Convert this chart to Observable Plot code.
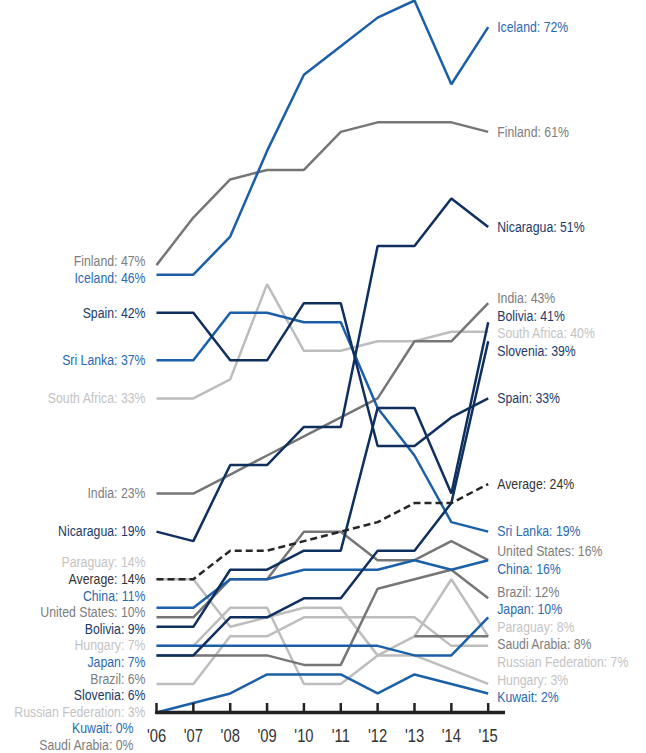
<!DOCTYPE html>
<html>
<head>
<meta charset="utf-8">
<script src="https://cdn.jsdelivr.net/npm/d3@7"></script>
<script src="https://cdn.jsdelivr.net/npm/@observablehq/plot@0.6"></script>
<style>
  html, body { margin: 0; padding: 0; background: #fff; }
  #chart svg { display: block; }
</style>
</head>
<body>
<div id="chart"></div>
<script>
// ---- data (shares in %) ----
const years = [2006, 2007, 2008, 2009, 2010, 2011, 2012, 2013, 2014, 2015];

const iceland      = [46, 46, 50, 59, 67, 70, 73, 74.8, 66, 72];
const finland      = [47, 52, 56, 57, 57, 61, 62, 62, 62, 61];
const nicaragua    = [19, 18, 26, 26, 30, 30, 49, 49, 54, 51];
const india        = [23, 23, 25, 27, 29, 31, 33, 39, 39, 43];
const bolivia      = [9, 9, 15, 15, 17, 17, 32, 32, 23, 41];
const southAfrica  = [33, 33, 35, 45, 38, 38, 39, 39, 40, 40];
const spain        = [42, 42, 37, 37, 43, 43, 28, 28, 31, 33];
const sriLanka     = [37, 37, 42, 42, 41, 41, 32, 27, 20, 19];
const unitedStates = [10, 10, 14, 14, 19, 19, 16, 16, 18, 16];
const china        = [11, 11, 14, 14, 15, 15, 15, 16, 15, 16];
const brazil       = [6, 6, 6, 6, 5, 5, 13, 14, 15, 12];
const slovenia     = [6, 6, 10, 10, 12, 12, 17, 17, 22, 39];
const paraguay     = [14, 14, 9, 10, 11, 11, 6, 8, 14, 8];
const average      = [14, 14, 17, 17, 18, 19, 20, 22, 22, 24];
const hungary      = [7, 7, 11, 11, 3, 3, 6, 6, 4.5, 3];
const japan        = [7, 7, 7, 7, 7, 7, 7, 6, 6, 10];
const russia       = [3, 3, 8, 8, 10, 10, 10, 10, 7, 7];
const kuwait       = [0, 1, 2, 4, 4, 4, 2, 4, 3, 2];
const saudiArabia  = [0, null, null, null, null, null, null, 8, 8, 8];

const seriesNames = ["Iceland", "Finland", "Nicaragua", "India", "Bolivia", "South Africa", "Spain",
  "Sri Lanka", "United States", "China", "Brazil", "Slovenia", "Paraguay", "Average", "Hungary",
  "Japan", "Russian Federation", "Kuwait", "Saudi Arabia"];
const seriesValues = [iceland, finland, nicaragua, india, bolivia, southAfrica, spain,
  sriLanka, unitedStates, china, brazil, slovenia, paraguay, average, hungary,
  japan, russia, kuwait, saudiArabia];
const seriesTone = ["blue", "grey", "navy", "grey", "navy", "light", "navy",
  "blue", "grey", "blue", "grey", "navy", "light", "avg", "light",
  "blue", "light", "blue", "grey"];

// ---- styles ----
const lineColor  = {blue: "#1b5fa8", navy: "#0f2f5f", grey: "#767676", light: "#bdbdbd", avg: "#262626"};
const labelColor = {blue: "#2b69b0", navy: "#1d3a68", grey: "#7d7d7d", light: "#c3c3c3", avg: "#333333"};
const FONT = "'Liberation Sans', Arial, sans-serif";
const CONDENSE = 0.82; // narrow the glyphs like a condensed face

// ---- table ----
const rows = seriesNames.flatMap((name, i) =>
  years.map((year, j) => ({name, tone: seriesTone[i], year, value: seriesValues[i][j] ?? NaN})));

// ---- scales shared with the label layout ----
const yDomain = [0, 74.8], yRange = [712, 0];
const xRange = [156, 487.7];
const Y = d3.scaleLinear().domain(yDomain).range(yRange);

// label collision avoidance: overlapping labels form clusters, centred on their
// targets; a cluster that holds the highlighted "Average" label is pinned to it.
function spread(items, gap, pinned) {
  const sorted = items.slice().sort((a, b) => a.desired - b.desired);
  const clusters = sorted.map(d => ({items: [d]}));
  const place = c => {
    const p = c.items.findIndex(d => d.name === pinned);
    c.top = p >= 0 ? c.items[p].desired - p * gap
                   : d3.mean(c.items, (d, k) => d.desired - k * gap);
  };
  clusters.forEach(place);
  let merged = true;
  while (merged) {
    merged = false;
    for (let i = 0; i < clusters.length - 1; i++) {
      const a = clusters[i], b = clusters[i + 1];
      if (b.top - (a.top + (a.items.length - 1) * gap) < gap - 1e-9) {
        a.items = a.items.concat(b.items);
        place(a);
        clusters.splice(i + 1, 1);
        merged = true;
        break;
      }
    }
  }
  clusters.forEach(c => c.items.forEach((d, k) => { d.pos = c.top + k * gap; }));
  // labels pushed below the baseline sit clear of the year labels
  return items.map(d => ({...d, labelY: Y.invert(d.pos), belowAxis: d.pos > yRange[0] + 8}));
}

function endLabels(side, gap) {
  const items = seriesNames.map((name, i) => {
    const vals = seriesValues[i].map((v, j) => ({v, year: years[j]})).filter(d => d.v != null);
    const end = side === "left" ? vals[0] : vals[vals.length - 1];
    return {name, tone: seriesTone[i], year: end.year, value: end.v,
            text: `${name}: ${Math.round(end.v)}%`, desired: Y(end.v)};
  });
  return spread(items, gap, "Average");
}
const leftLabels = endLabels("left", 16.6);
const rightLabels = endLabels("right", 17.5);

const lineMarks = ["light", "grey", "blue", "navy"].map(t =>
  Plot.line(rows.filter(d => d.tone === t), {
    x: "year", y: "value", z: "name", stroke: lineColor[t], strokeWidth: 2.5,
    strokeLinejoin: "miter", strokeLinecap: "butt"
  }));

const chart = Plot.plot({
  width: 646,
  height: 753,
  marginLeft: 155,
  marginRight: 141,
  marginTop: 0,
  marginBottom: 41,
  x: {domain: [years[0], years[years.length - 1]], range: xRange, axis: null},
  y: {domain: yDomain, range: yRange, axis: null},
  style: {fontFamily: FONT, background: "#fff", overflow: "hidden"},
  marks: [
    ...lineMarks,
    Plot.line(rows.filter(d => d.tone === "avg"), {
      x: "year", y: "value", z: "name", stroke: lineColor.avg, strokeWidth: 2.5,
      strokeDasharray: "7,4", strokeLinecap: "butt"
    }),
    Plot.ruleY([0], {stroke: "#222", strokeWidth: 3.5}),
    Plot.ruleX(years, {x: d => d, y1: 0, y2: 0, insetTop: -9, stroke: "#222", strokeWidth: 2.5}),
    Plot.text(years, {
      x: d => d, y: 0, dy: 24, text: d => "'" + String(d).slice(2),
      fontSize: 18, fill: "#333"
    }),
    Plot.text(leftLabels.filter(d => !d.belowAxis), {
      x: "year", y: "labelY", text: "text", textAnchor: "end", dx: -11,
      fontSize: 15, fill: d => labelColor[d.tone]
    }),
    Plot.text(leftLabels.filter(d => d.belowAxis), {
      x: "year", y: "labelY", text: "text", textAnchor: "end", dx: -23,
      fontSize: 15, fill: d => labelColor[d.tone]
    }),
    Plot.text(rightLabels, {
      x: "year", y: "labelY", text: "text", textAnchor: "start", dx: 9,
      fontSize: 15, fill: d => labelColor[d.tone]
    })
  ]
});

document.getElementById("chart").appendChild(chart);
// condensed look: squeeze every text horizontally about its own anchor point
d3.select(chart).selectAll("text").each(function () {
  const box = this.getBBox();
  if (!box.width) return;
  const anchor = getComputedStyle(this).textAnchor;
  const ax = anchor === "end" ? box.x + box.width
           : anchor === "middle" ? box.x + box.width / 2 : box.x;
  const prev = this.getAttribute("transform") || "";
  this.setAttribute("transform",
    `${prev} translate(${ax},0) scale(${CONDENSE},1) translate(${-ax},0)`.trim());
});
</script>
</body>
</html>
